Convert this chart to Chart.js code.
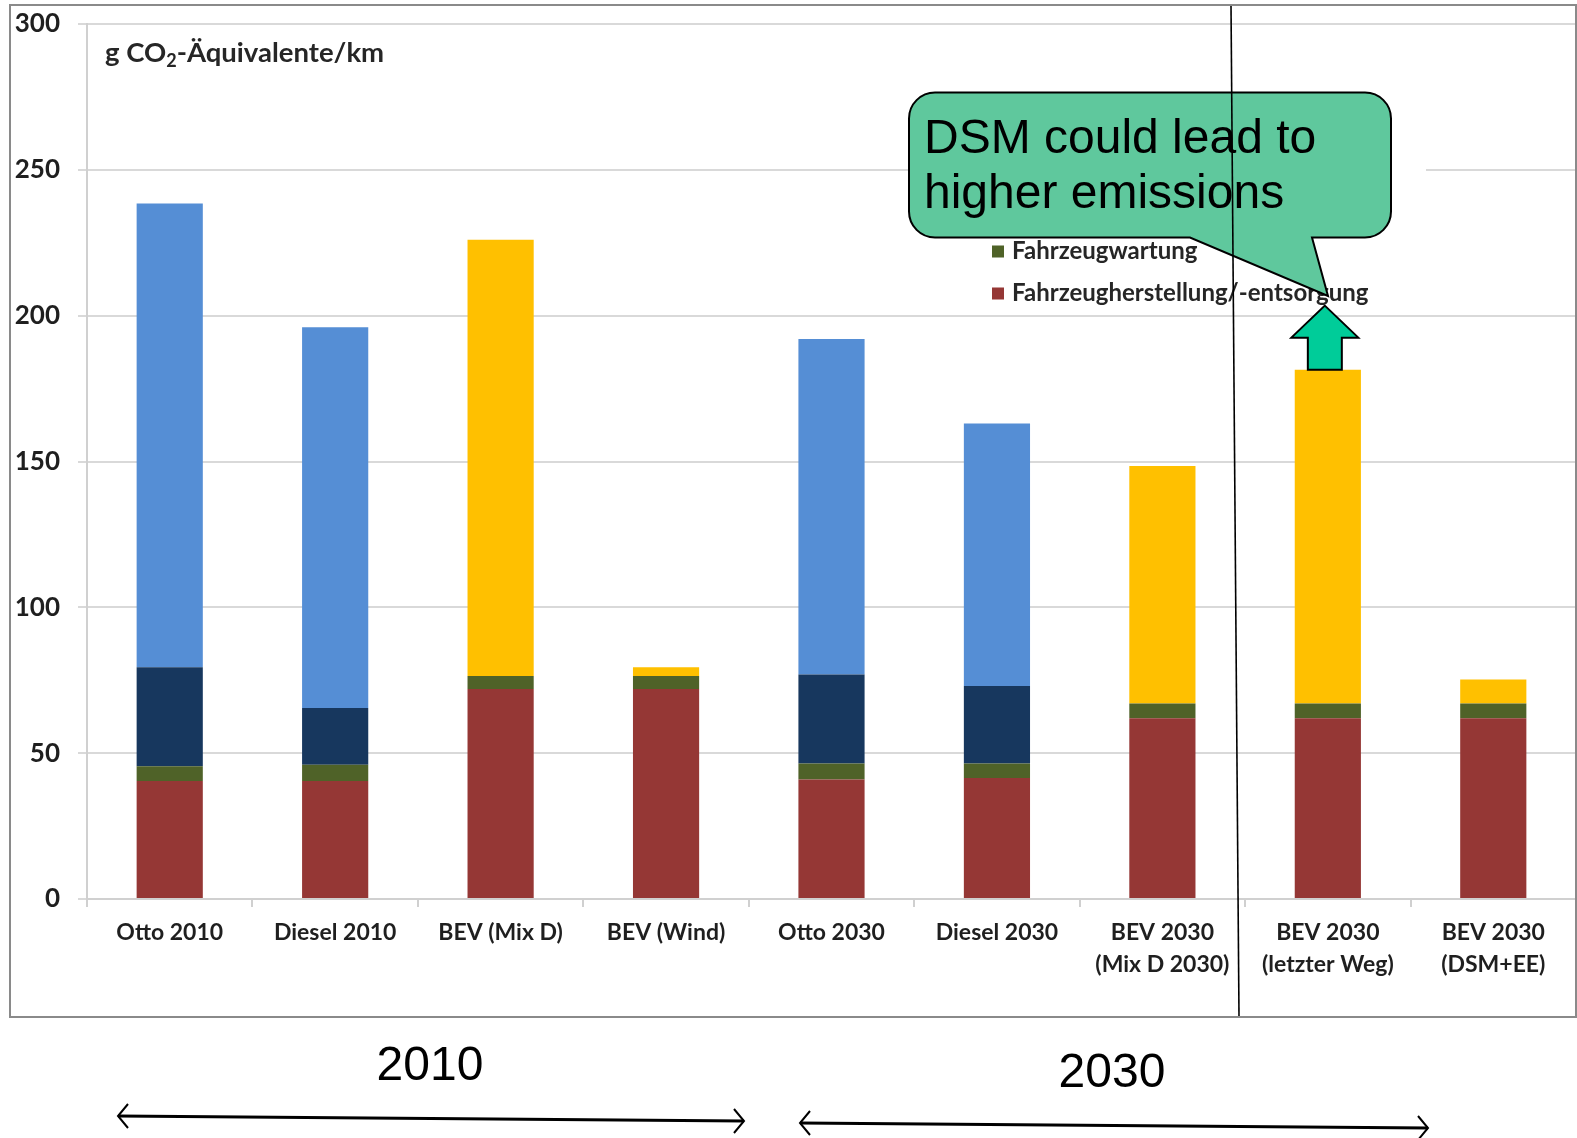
<!DOCTYPE html>
<html>
<head>
<meta charset="utf-8">
<script src="https://cdn.jsdelivr.net/npm/chart.js@4.4.1/dist/chart.umd.min.js"></script>
<style>
  html, body { margin: 0; padding: 0; background: #ffffff; }
  #wrap { position: relative; width: 1577px; height: 1138px; }
</style>
</head>
<body>
<div id="wrap"><canvas id="c" width="1577" height="1138"></canvas></div>
<script>
// ---- data ----
const categories = [
  'Otto 2010', 'Diesel 2010', 'BEV (Mix D)', 'BEV (Wind)', 'Otto 2030', 'Diesel 2030',
  ['BEV 2030', '(Mix D 2030)'], ['BEV 2030', '(letzter Weg)'], ['BEV 2030', '(DSM+EE)']
];
const herstellung = [40.5, 40.5, 72, 72, 41, 41.5, 62, 62, 62];
const wartung = [5, 5.5, 4.5, 4.5, 5.5, 5, 5, 5, 5];
const kraftstoff = [34, 19.5, 0, 0, 30.5, 26.5, 0, 0, 0];
const betrieb = [159, 130.5, 0, 0, 115, 90, 0, 0, 0];
const strom = [0, 0, 149.5, 3, 0, 0, 81.5, 114.5, 8.3];
const seriesNames = ['Fahrzeugherstellung/-entsorgung', 'Fahrzeugwartung', 'Kraftstoffbereitstellung', 'Fahrzeugbetrieb (direkt)', 'Strombereitstellung'];
const yTicks = [0, 50, 100, 150, 200, 250, 300];
const yTitle = ['g CO', '2', '-Äquivalente/km'];
const calloutLines = ['DSM could lead to', 'higher emissions'];
const periodLabels = ['2010', '2030'];
const highlightIndex = 7;

const colors = ['#953735', '#4F6228', '#17375E', '#558ED5', '#FFC000'];
const FONT = 'Lato, "Open Sans", sans-serif';

const overlay = {
  id: 'overlay',
  afterDraw(chart) {
    const ctx = chart.ctx;
    const xs = chart.scales.x, ys = chart.scales.y;
    ctx.save();

    // white legend background
    ctx.fillStyle = '#ffffff';
    ctx.fillRect(980, 100, 446, 208);

    // legend entries (visible ones)
    const legendRows = [{ i: 1, y: 251.5 }, { i: 0, y: 293.5 }];
    ctx.font = 'bold 24px ' + FONT;
    ctx.textBaseline = 'middle';
    ctx.textAlign = 'left';
    legendRows.forEach(r => {
      ctx.fillStyle = colors[r.i];
      ctx.fillRect(992, r.y - 6, 12, 12);
      ctx.fillStyle = '#262626';
      ctx.fillText(seriesNames[r.i], 1012, r.y);
    });

    // y-axis title with subscript
    ctx.fillStyle = '#262626';
    ctx.font = 'bold 27.5px ' + FONT;
    ctx.textBaseline = 'middle';
    let tx = 105;
    ctx.fillText(yTitle[0], tx, 53);
    tx += ctx.measureText(yTitle[0]).width;
    ctx.font = 'bold 18px ' + FONT;
    ctx.fillText(yTitle[1], tx, 61);
    tx += ctx.measureText(yTitle[1]).width;
    ctx.font = 'bold 27.5px ' + FONT;
    ctx.fillText(yTitle[2], tx, 53);

    // callout box
    const x0 = 909, y0 = 92.5, x1 = 1391, y1 = 237.5, r = 26;
    ctx.beginPath();
    ctx.moveTo(x0 + r, y0);
    ctx.lineTo(x1 - r, y0);
    ctx.arcTo(x1, y0, x1, y0 + r, r);
    ctx.lineTo(x1, y1 - r);
    ctx.arcTo(x1, y1, x1 - r, y1, r);
    ctx.lineTo(1312, y1);
    ctx.lineTo(1328, 296);
    ctx.lineTo(1190, y1);
    ctx.lineTo(x0 + r, y1);
    ctx.arcTo(x0, y1, x0, y1 - r, r);
    ctx.lineTo(x0, y0 + r);
    ctx.arcTo(x0, y0, x0 + r, y0, r);
    ctx.closePath();
    ctx.fillStyle = '#5FC89D';
    ctx.fill();
    ctx.lineWidth = 2;
    ctx.strokeStyle = '#000000';
    ctx.stroke();

    ctx.fillStyle = '#000000';
    ctx.font = '48px "Liberation Sans", Arial, sans-serif';
    ctx.textBaseline = 'middle';
    ctx.fillText(calloutLines[0], 924, 140);
    ctx.fillText(calloutLines[1], 924, 195);

    // green up arrow above highlighted bar
    const total = herstellung[highlightIndex] + wartung[highlightIndex] + kraftstoff[highlightIndex] + betrieb[highlightIndex] + strom[highlightIndex];
    const cx = xs.getPixelForValue(highlightIndex) - 3;
    const base = ys.getPixelForValue(total);
    const tip = base - 64, headBase = base - 32;
    ctx.beginPath();
    ctx.moveTo(cx, tip);
    ctx.lineTo(cx + 33.5, headBase);
    ctx.lineTo(cx + 17, headBase);
    ctx.lineTo(cx + 17, base);
    ctx.lineTo(cx - 17, base);
    ctx.lineTo(cx - 17, headBase);
    ctx.lineTo(cx - 33.5, headBase);
    ctx.closePath();
    ctx.fillStyle = '#00CC99';
    ctx.fill();
    ctx.lineWidth = 2;
    ctx.strokeStyle = '#000000';
    ctx.stroke();

    // slanted vertical separator
    ctx.beginPath();
    ctx.moveTo(1231, 5);
    ctx.lineTo(1239, 1017);
    ctx.lineWidth = 1.6;
    ctx.strokeStyle = '#000000';
    ctx.stroke();

    // outer frame
    ctx.strokeStyle = '#8a8a8a';
    ctx.lineWidth = 2;
    ctx.strokeRect(10, 5, 1566, 1012);

    // period labels
    ctx.fillStyle = '#000000';
    ctx.font = '48px "Liberation Sans Narrow", "Liberation Sans", Arial, sans-serif';
    ctx.textAlign = 'center';
    ctx.textBaseline = 'middle';
    ctx.fillText(periodLabels[0], 430, 1067);
    ctx.fillText(periodLabels[1], 1112, 1074);

    // double-headed arrows
    function dArrow(ax, ay, bx, by) {
      ctx.beginPath();
      ctx.moveTo(ax, ay); ctx.lineTo(bx, by);
      ctx.lineWidth = 3; ctx.strokeStyle = '#000'; ctx.stroke();
      ctx.lineWidth = 2;
      ctx.beginPath();
      ctx.moveTo(ax + 10, ay - 12); ctx.lineTo(ax, ay); ctx.lineTo(ax + 10, ay + 12);
      ctx.moveTo(bx - 10, by - 12); ctx.lineTo(bx, by); ctx.lineTo(bx - 10, by + 12);
      ctx.stroke();
    }
    dArrow(118, 1116, 744, 1121);
    dArrow(800, 1123, 1428, 1128);

    ctx.restore();
  }
};

const datasets = [herstellung, wartung, kraftstoff, betrieb, strom].map((d, i) => ({
  label: seriesNames[i],
  data: d,
  backgroundColor: colors[i],
  borderWidth: 0,
  barPercentage: 1,
  categoryPercentage: 0.4,
  stack: 's'
}));

new Chart(document.getElementById('c'), {
  type: 'bar',
  data: { labels: categories, datasets },
  options: {
    responsive: false,
    animation: false,
    devicePixelRatio: 1,
    layout: { autoPadding: false, padding: { top: 24, right: 1, bottom: 139, left: 0 } },
    plugins: { legend: { display: false }, tooltip: { enabled: false } },
    scales: {
      x: {
        stacked: true,
        grid: { drawOnChartArea: false, drawTicks: true, tickLength: 8, color: '#d0d0d0', lineWidth: 2 },
        border: { display: true, color: '#d0d0d0', width: 2 },
        ticks: {
          color: '#1f1f1f', padding: 9, maxRotation: 0, autoSkip: false,
          font: { family: FONT, size: 23, weight: 'bold', lineHeight: 1.413 }
        },
        afterFit(s) { s.height = 100; }
      },
      y: {
        stacked: true,
        min: 0, max: 300,
        afterBuildTicks(s) { s.ticks = yTicks.map(v => ({ value: v })); },
        grid: { color: '#d9d9d9', lineWidth: 2, tickLength: 9 },
        border: { display: true, color: '#d0d0d0', width: 2 },
        ticks: {
          color: '#1f1f1f', padding: 18,
          font: { family: FONT, size: 26, weight: 'bold' }
        },
        afterFit(s) { s.width = 87; s.paddingTop = 0; s.paddingBottom = 0; }
      }
    }
  },
  plugins: [overlay]
});
</script>
</body>
</html>
